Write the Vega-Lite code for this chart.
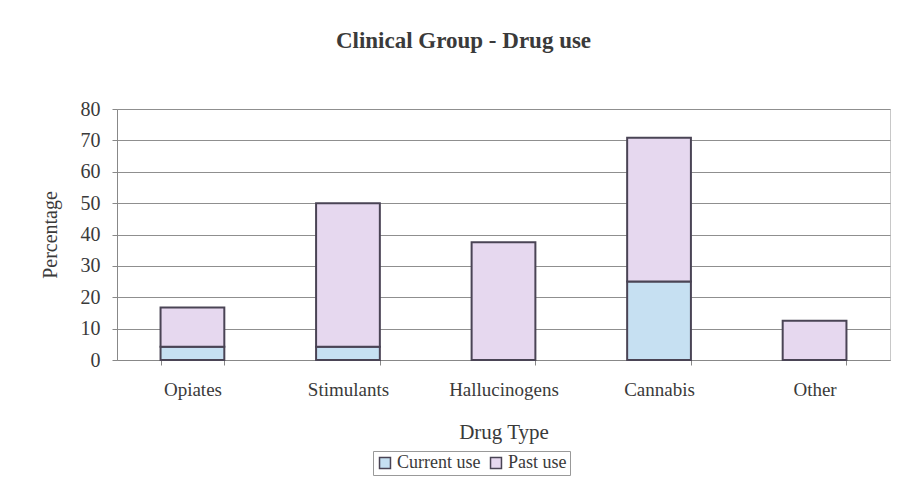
{
  "$schema": "https://vega.github.io/schema/vega-lite/v6.json",
  "autosize": "none",
  "width": 773,
  "height": 251,
  "padding": {"left": 117, "top": 109, "right": 22, "bottom": 136},
  "background": "white",
  "title": {
    "text": "Clinical Group - Drug use",
    "font": "Liberation Serif",
    "fontSize": 23,
    "fontWeight": "bold",
    "color": "#3a3a3a",
    "anchor": "middle",
    "dx": -40,
    "offset": 46
  },
  "data": {
    "values": [
      {"drug": "Opiates", "use": "Current use", "value": 4.2},
      {"drug": "Opiates", "use": "Past use", "value": 12.5},
      {"drug": "Stimulants", "use": "Current use", "value": 4.2},
      {"drug": "Stimulants", "use": "Past use", "value": 45.8},
      {"drug": "Hallucinogens", "use": "Current use", "value": 0},
      {"drug": "Hallucinogens", "use": "Past use", "value": 37.5},
      {"drug": "Cannabis", "use": "Current use", "value": 25},
      {"drug": "Cannabis", "use": "Past use", "value": 45.8},
      {"drug": "Other", "use": "Current use", "value": 0},
      {"drug": "Other", "use": "Past use", "value": 12.5}
    ]
  },
  "mark": {"type": "bar", "stroke": "#4a4455", "strokeWidth": 2},
  "encoding": {
    "x": {
      "field": "drug",
      "type": "nominal",
      "sort": ["Opiates", "Stimulants", "Hallucinogens", "Cannabis", "Other"],
      "scale": {"paddingInner": 0.59, "paddingOuter": 0.28},
      "axis": {
        "title": "Drug Type",
        "titleFont": "Liberation Serif",
        "titleFontSize": 21,
        "titleFontWeight": "normal",
        "titleColor": "#3a3a3a",
        "titlePadding": 22,
        "labelFont": "Liberation Serif",
        "labelFontSize": 19,
        "labelColor": "#3a3a3a",
        "labelAngle": 0,
        "labelPadding": 15,
        "tickBand": "extent",
        "tickColor": "#888888",
        "tickSize": 5,
        "domainColor": "#888888",
        "grid": false
      }
    },
    "y": {
      "field": "value",
      "type": "quantitative",
      "stack": "zero",
      "scale": {"domain": [0, 80]},
      "axis": {
        "title": "Percentage",
        "titleFont": "Liberation Serif",
        "titleFontSize": 20,
        "titleFontWeight": "normal",
        "titleColor": "#3a3a3a",
        "titlePadding": 20,
        "labelFont": "Liberation Serif",
        "labelFontSize": 20,
        "labelColor": "#3a3a3a",
        "labelPadding": 12,
        "values": [0, 10, 20, 30, 40, 50, 60, 70, 80],
        "tickColor": "#888888",
        "tickSize": 5,
        "domainColor": "#888888",
        "gridColor": "#8f8f8f",
        "gridWidth": 1
      }
    },
    "color": {
      "field": "use",
      "type": "nominal",
      "scale": {"domain": ["Current use", "Past use"], "range": ["#c6e0f2", "#e6d8ef"]},
      "legend": {
        "title": null,
        "orient": "none",
        "direction": "horizontal",
        "legendX": 256,
        "legendY": 342,
        "strokeColor": "#999999",
        "padding": 3,
        "symbolType": "square",
        "symbolSize": 120,
        "symbolStrokeColor": "#4a4455",
        "symbolStrokeWidth": 1.5,
        "labelFont": "Liberation Serif",
        "labelFontSize": 18,
        "labelColor": "#3a3a3a",
        "columnPadding": 6,
        "symbolOffset": 0,
        "labelOffset": 3
      }
    },
    "order": {"field": "use", "sort": "ascending"}
  },
  "config": {
    "view": {"stroke": "#c8c8c8", "strokeWidth": 1}
  }
}
